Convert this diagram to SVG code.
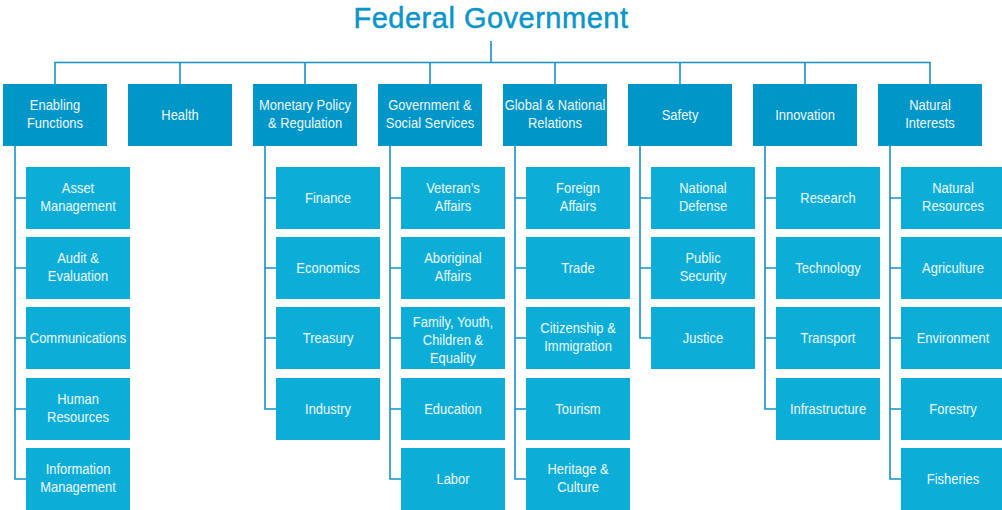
<svg xmlns="http://www.w3.org/2000/svg" width="1002" height="510" viewBox="0 0 1002 510">
<style>
.l1{fill:#0096C7}
.l2{fill:#0CAED7}
.t{font-family:"Liberation Sans",Arial,sans-serif;font-size:15.4px;fill:#EEF8FC;text-anchor:middle;transform-box:fill-box;transform-origin:center;transform:scaleX(0.84)}
.title{font-family:"Liberation Sans",Arial,sans-serif;font-size:29px;letter-spacing:0.5px;fill:#0A95C9;stroke:#0A95C9;stroke-width:0.5;text-anchor:middle}
.c{stroke:#1590C8;stroke-width:1.6;fill:none}
</style>
<rect width="1002" height="510" fill="#ffffff"/>
<text class="title" x="491" y="27.5">Federal Government</text>
<g id="connectors" class="c">
<path d="M491 41V62.5M55 84V62.5H930V84M180 62.5V84M305 62.5V84M430 62.5V84M555 62.5V84M680 62.5V84M805 62.5V84"/>
<path d="M15 146V479H26M15 198H26M15 268H26M15 338H26M15 409H26"/>
<path d="M265 146V409H276M265 198H276M265 268H276M265 338H276"/>
<path d="M390 146V479H401M390 198H401M390 268H401M390 338H401M390 409H401"/>
<path d="M515 146V479H526M515 198H526M515 268H526M515 338H526M515 409H526"/>
<path d="M640 146V338H651M640 198H651M640 268H651"/>
<path d="M765 146V409H776M765 198H776M765 268H776M765 338H776"/>
<path d="M890 146V479H901M890 198H901M890 268H901M890 338H901M890 409H901"/>
</g>
<g id="enabling-functions"><rect class="l1" x="3" y="84" width="104" height="62"/><text class="t"><tspan x="55" y="110">Enabling</tspan><tspan x="55" y="128">Functions</tspan></text></g>
<g id="health"><rect class="l1" x="128" y="84" width="104" height="62"/><text class="t" x="180" y="120.5">Health</text></g>
<g id="monetary-policy"><rect class="l1" x="253" y="84" width="104" height="62"/><text class="t"><tspan x="305" y="110">Monetary Policy</tspan><tspan x="305" y="128">&amp; Regulation</tspan></text></g>
<g id="government-social"><rect class="l1" x="378" y="84" width="104" height="62"/><text class="t"><tspan x="430" y="110">Government &amp;</tspan><tspan x="430" y="128">Social Services</tspan></text></g>
<g id="global-national"><rect class="l1" x="503" y="84" width="104" height="62"/><text class="t"><tspan x="555" y="110">Global &amp; National</tspan><tspan x="555" y="128">Relations</tspan></text></g>
<g id="safety"><rect class="l1" x="628" y="84" width="104" height="62"/><text class="t" x="680" y="120.5">Safety</text></g>
<g id="innovation"><rect class="l1" x="753" y="84" width="104" height="62"/><text class="t" x="805" y="120.5">Innovation</text></g>
<g id="natural-interests"><rect class="l1" x="878" y="84" width="104" height="62"/><text class="t"><tspan x="930" y="110">Natural</tspan><tspan x="930" y="128">Interests</tspan></text></g>

<g id="asset-management"><rect class="l2" x="26" y="167" width="104" height="62"/><text class="t"><tspan x="78" y="193">Asset</tspan><tspan x="78" y="211">Management</tspan></text></g>
<g id="audit-evaluation"><rect class="l2" x="26" y="237" width="104" height="62"/><text class="t"><tspan x="78" y="263">Audit &amp;</tspan><tspan x="78" y="281">Evaluation</tspan></text></g>
<g id="communications"><rect class="l2" x="26" y="307" width="104" height="62"/><text class="t" x="78" y="343.5">Communications</text></g>
<g id="human-resources"><rect class="l2" x="26" y="378" width="104" height="62"/><text class="t"><tspan x="78" y="404">Human</tspan><tspan x="78" y="422">Resources</tspan></text></g>
<g id="information-management"><rect class="l2" x="26" y="448" width="104" height="62"/><text class="t"><tspan x="78" y="474">Information</tspan><tspan x="78" y="492">Management</tspan></text></g>

<g id="finance"><rect class="l2" x="276" y="167" width="104" height="62"/><text class="t" x="328" y="203.5">Finance</text></g>
<g id="economics"><rect class="l2" x="276" y="237" width="104" height="62"/><text class="t" x="328" y="273.5">Economics</text></g>
<g id="treasury"><rect class="l2" x="276" y="307" width="104" height="62"/><text class="t" x="328" y="343.5">Treasury</text></g>
<g id="industry"><rect class="l2" x="276" y="378" width="104" height="62"/><text class="t" x="328" y="414.5">Industry</text></g>

<g id="veterans-affairs"><rect class="l2" x="401" y="167" width="104" height="62"/><text class="t"><tspan x="453" y="193">Veteran’s</tspan><tspan x="453" y="211">Affairs</tspan></text></g>
<g id="aboriginal-affairs"><rect class="l2" x="401" y="237" width="104" height="62"/><text class="t"><tspan x="453" y="263">Aboriginal</tspan><tspan x="453" y="281">Affairs</tspan></text></g>
<g id="family-youth"><rect class="l2" x="401" y="307" width="104" height="62"/><text class="t"><tspan x="453" y="327">Family, Youth,</tspan><tspan x="453" y="345">Children &amp;</tspan><tspan x="453" y="363">Equality</tspan></text></g>
<g id="education"><rect class="l2" x="401" y="378" width="104" height="62"/><text class="t" x="453" y="414.5">Education</text></g>
<g id="labor"><rect class="l2" x="401" y="448" width="104" height="62"/><text class="t" x="453" y="484.5">Labor</text></g>

<g id="foreign-affairs"><rect class="l2" x="526" y="167" width="104" height="62"/><text class="t"><tspan x="578" y="193">Foreign</tspan><tspan x="578" y="211">Affairs</tspan></text></g>
<g id="trade"><rect class="l2" x="526" y="237" width="104" height="62"/><text class="t" x="578" y="273.5">Trade</text></g>
<g id="citizenship-immigration"><rect class="l2" x="526" y="307" width="104" height="62"/><text class="t"><tspan x="578" y="333">Citizenship &amp;</tspan><tspan x="578" y="351">Immigration</tspan></text></g>
<g id="tourism"><rect class="l2" x="526" y="378" width="104" height="62"/><text class="t" x="578" y="414.5">Tourism</text></g>
<g id="heritage-culture"><rect class="l2" x="526" y="448" width="104" height="62"/><text class="t"><tspan x="578" y="474">Heritage &amp;</tspan><tspan x="578" y="492">Culture</tspan></text></g>

<g id="national-defense"><rect class="l2" x="651" y="167" width="104" height="62"/><text class="t"><tspan x="703" y="193">National</tspan><tspan x="703" y="211">Defense</tspan></text></g>
<g id="public-security"><rect class="l2" x="651" y="237" width="104" height="62"/><text class="t"><tspan x="703" y="263">Public</tspan><tspan x="703" y="281">Security</tspan></text></g>
<g id="justice"><rect class="l2" x="651" y="307" width="104" height="62"/><text class="t" x="703" y="343.5">Justice</text></g>

<g id="research"><rect class="l2" x="776" y="167" width="104" height="62"/><text class="t" x="828" y="203.5">Research</text></g>
<g id="technology"><rect class="l2" x="776" y="237" width="104" height="62"/><text class="t" x="828" y="273.5">Technology</text></g>
<g id="transport"><rect class="l2" x="776" y="307" width="104" height="62"/><text class="t" x="828" y="343.5">Transport</text></g>
<g id="infrastructure"><rect class="l2" x="776" y="378" width="104" height="62"/><text class="t" x="828" y="414.5">Infrastructure</text></g>

<g id="natural-resources"><rect class="l2" x="901" y="167" width="104" height="62"/><text class="t"><tspan x="953" y="193">Natural</tspan><tspan x="953" y="211">Resources</tspan></text></g>
<g id="agriculture"><rect class="l2" x="901" y="237" width="104" height="62"/><text class="t" x="953" y="273.5">Agriculture</text></g>
<g id="environment"><rect class="l2" x="901" y="307" width="104" height="62"/><text class="t" x="953" y="343.5">Environment</text></g>
<g id="forestry"><rect class="l2" x="901" y="378" width="104" height="62"/><text class="t" x="953" y="414.5">Forestry</text></g>
<g id="fisheries"><rect class="l2" x="901" y="448" width="104" height="62"/><text class="t" x="953" y="484.5">Fisheries</text></g>
</svg>
